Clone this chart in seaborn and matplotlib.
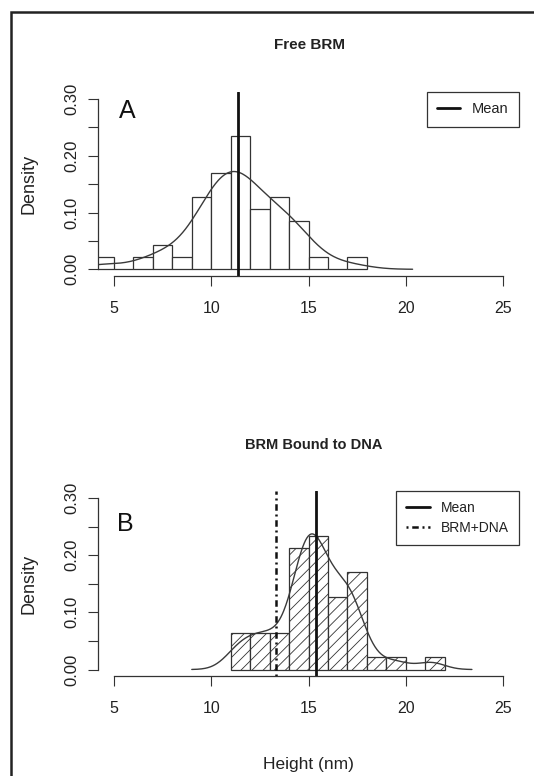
import numpy as np
import matplotlib
matplotlib.use("Agg")
import matplotlib.pyplot as plt
from matplotlib.patches import Rectangle
import seaborn as sns

# ---------------- data ----------------
free_brm = [4.4, 6.7, 7.4, 7.8, 8.6,
            9.2, 9.4, 9.6, 9.7, 9.8, 9.9,
            10.1, 10.2, 10.4, 10.5, 10.6, 10.7, 10.8, 10.9,
            11.05, 11.1, 11.2, 11.3, 11.4, 11.5, 11.5, 11.6, 11.7, 11.8, 11.9,
            12.2, 12.4, 12.5, 12.7, 12.9,
            13.1, 13.3, 13.4, 13.6, 13.8, 13.9,
            14.2, 14.4, 14.6, 14.8,
            15.4, 17.05]
bound_dna = [11.1, 11.5, 11.8, 12.2, 12.5, 12.8, 13.1, 13.4, 13.8,
             14.2, 14.4, 14.5, 14.6, 14.65, 14.7, 14.8, 14.85, 14.9, 14.95,
             15.05, 15.1, 15.15, 15.2, 15.25, 15.3, 15.4, 15.5, 15.6, 15.75, 15.9,
             16.05, 16.1, 16.2, 16.3, 16.4, 16.6,
             17.02, 17.05, 17.1, 17.15, 17.2, 17.3, 17.4, 17.5,
             18.3, 19.5, 21.3]
bins_free = list(range(4, 19))
bins_bound = list(range(11, 23))
mean_free = 11.4
mean_bound = 15.4
brm_dna_ref = 13.35
x_ticks = [5, 10, 15, 20, 25]
y_ticks = [0.0, 0.05, 0.10, 0.15, 0.20, 0.25, 0.30]
y_ticklabels = ["0.00", "", "0.10", "", "0.20", "", "0.30"]
titles = ["Free BRM", "BRM Bound to DNA"]
panel_letters = ["A", "B"]

# ---------------- style ----------------
sns.set_style("ticks")
plt.rcParams["font.family"] = ["Liberation Sans", "DejaVu Sans"]
plt.rcParams["hatch.linewidth"] = 0.6
plt.rcParams["hatch.color"] = "#333333"
TXT = "#222222"

W, H = 534, 776
fig = plt.figure(figsize=(W / 100, H / 100), dpi=100)
fig.patch.set_facecolor("white")


def bw_factor(x, bw):
    # convert an absolute Gaussian bandwidth into the factor used by the KDE
    return bw / np.std(np.asarray(x, float), ddof=1)


def px_axes(left, top, right, bottom):
    return [left / W, 1 - bottom / H, (right - left) / W, (bottom - top) / H]


ax_a = fig.add_axes(px_axes(98.4, 92.2, 518.6, 276.1))
ax_b = fig.add_axes(px_axes(98.4, 491.1, 518.6, 676.4))

for ax, data, bins, hatch, bw in [(ax_a, free_brm, bins_free, None, 1.1),
                                  (ax_b, bound_dna, bins_bound, "///", 0.70)]:
    kw = dict(hatch=hatch) if hatch else {}
    sns.histplot(x=data, bins=bins, stat="density", color="white",
                 edgecolor="#333333", linewidth=0.9, alpha=1, ax=ax, **kw)
    sns.kdeplot(x=data, bw_method=bw_factor(data, bw), cut=3, gridsize=400,
                color="#3a3a3a", linewidth=1.0, ax=ax)
    ax.set_xlim(4.2, 25.8)
    ax.set_ylim(-0.012, 0.312)
    ax.set_xticks(x_ticks)
    ax.set_xticklabels([str(t) for t in x_ticks])
    ax.set_yticks(y_ticks)
    ax.set_yticklabels(y_ticklabels, rotation=90, va="center")
    ax.tick_params(axis="both", length=7.2, width=0.8, color="#333333",
                   labelcolor=TXT)
    ax.tick_params(axis="x", pad=10.5, labelsize=11.5)
    ax.tick_params(axis="y", pad=6.5, labelsize=12)
    ax.set_xlabel("")
    ax.set_ylabel("")
    for s in ["top", "right"]:
        ax.spines[s].set_visible(False)
    ax.spines["left"].set_bounds(0, 0.30)
    ax.spines["bottom"].set_bounds(5, 25)
    for s in ["left", "bottom"]:
        ax.spines[s].set_linewidth(0.9)
        ax.spines[s].set_color("#333333")
    ax.set_facecolor("white")

# mean lines
ax_a.axvline(mean_free, color="#111111", linewidth=2.0, label="Mean")
ax_b.axvline(mean_bound, color="#111111", linewidth=2.0, label="Mean")
ax_b.axvline(brm_dna_ref, color="#111111", linewidth=1.8,
             linestyle=(0, (0.8, 1.5, 2.6, 1.5)), label="BRM+DNA")

# legends
for ax, fs, hl, ls in [(ax_a, 10.5, 1.6, 0.2), (ax_b, 10, 1.7, 0.45)]:
    leg = ax.legend(loc="upper right", borderaxespad=0, fancybox=False,
                    framealpha=1, edgecolor="#333333", fontsize=fs,
                    handlelength=hl, handletextpad=0.8, borderpad=0.7,
                    labelspacing=ls)
    leg.get_frame().set_linewidth(0.9)
    for t in leg.get_texts():
        t.set_color(TXT)

# panel letters
ax_a.text(5.67, 0.279, panel_letters[0], fontsize=18, ha="center",
          va="center", color="#111111")
ax_b.text(5.6, 0.255, panel_letters[1], fontsize=18, ha="center",
          va="center", color="#111111")

# titles and axis labels
fig.text(310 / W, 1 - 45 / H, titles[0], fontsize=11, fontweight="bold",
         ha="center", va="center", color=TXT)
fig.text(314 / W, 1 - 445.5 / H, titles[1], fontsize=10.5, fontweight="bold",
         ha="center", va="center", color=TXT)
fig.text(29 / W, 1 - 184.2 / H, "Density", rotation=90, fontsize=13,
         ha="center", va="center", color=TXT)
fig.text(29 / W, 1 - 583.8 / H, "Density", rotation=90, fontsize=13,
         ha="center", va="center", color=TXT)
fig.text(308.5 / W, 1 - 765 / H, "Height (nm)", fontsize=12.5,
         ha="center", va="center", color=TXT)

# outer frame (left and top edges visible)
fig.add_artist(Rectangle((10.5 / W, -0.05), 1.2, 1 - 12 / H + 0.05,
                         transform=fig.transFigure, fill=False,
                         edgecolor="#222222", linewidth=1.8))

fig.savefig("out.png", dpi=100, facecolor="white")
